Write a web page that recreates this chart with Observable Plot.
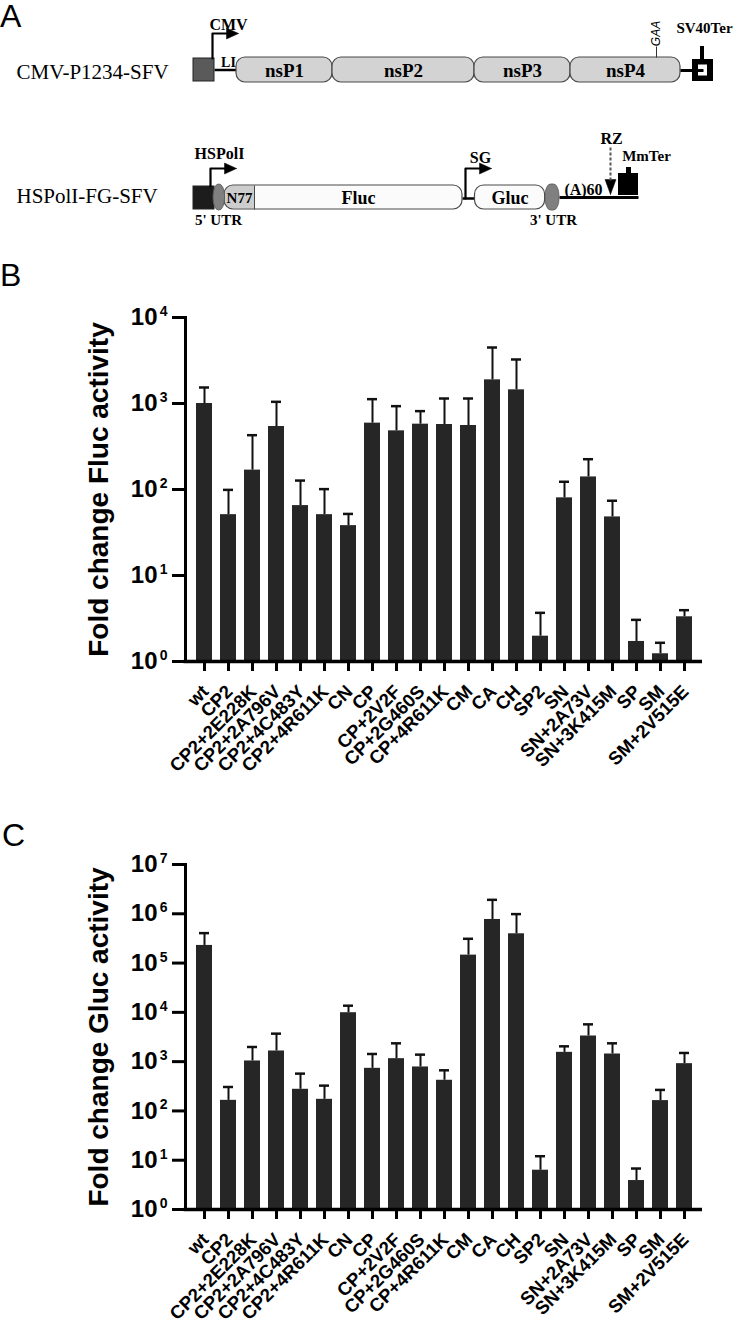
<!DOCTYPE html>
<html><head><meta charset="utf-8">
<script src="https://cdn.jsdelivr.net/npm/d3@7"></script>
<script src="https://cdn.jsdelivr.net/npm/@observablehq/plot@0.6"></script>
<style>
html,body{margin:0;padding:0;background:#fff;overflow:hidden}
#page{position:relative;width:733px;height:1326px;background:#fff}
.panel{position:absolute;left:0}
.letter{position:absolute;font-family:'Liberation Sans',Arial,sans-serif;font-size:32px;line-height:32px;color:#000}
</style></head>
<body><div id="page"></div>
<script>
// ---------- DATA ----------
const constructs = ["wt","CP2","CP2+2E228K","CP2+2A796V","CP2+4C483Y","CP2+4R611K","CN","CP","CP+2V2F","CP+2G460S","CP+4R611K","CM","CA","CH","SP2","SN","SN+2A73V","SN+3K415M","SP","SM","SM+2V515E"];
const flucMean  = [1000, 51, 168, 540, 65, 51, 38, 591, 481, 575, 570, 555, 1884, 1442, 1.97, 80, 140, 48, 1.71, 1.23, 3.31];
const flucUpper = [1535, 99, 428, 1046, 127, 101, 52, 1123, 931, 815, 1143, 1143, 4478, 3250, 3.68, 123, 225, 74, 3.05, 1.65, 3.95];
const glucMean  = [228000, 164, 1032, 1645, 275, 172, 9840, 732, 1150, 780, 419, 145000, 767000, 393000, 6.27, 1545, 3314, 1430, 3.87, 162, 910];
const glucUpper = [405000, 306, 1983, 3697, 571, 326, 13650, 1430, 2353, 1387, 667, 311000, 1920000, 985000, 12.05, 2045, 5710, 2353, 6.78, 267, 1500];
const flucTicks = [1, 10, 100, 1000, 10000];
const glucTicks = [1, 10, 100, 1000, 10000, 100000, 1000000, 10000000];

// Schematic (panel A), in diagram units
const constructNames = [{name:"CMV-P1234-SFV", y:72}, {name:"HSPolI-FG-SFV", y:196}];
const nsGenes = [{name:"nsP1",x1:236,x2:332},{name:"nsP2",x1:332,x2:474},{name:"nsP3",x1:474,x2:570},{name:"nsP4",x1:570,x2:680}];
const reporterGenes = [{name:"Fluc",x1:224,x2:462,lx:358},{name:"Gluc",x1:474.5,x2:544.6,lx:509.5}];
const backbone = [{x1:214,x2:236,y:69.5,w:2.5},{x1:462,x2:475,y:198,w:2.5},{x1:559,x2:638,y:197,w:3}];
const promoterBoxes = [{x1:193,x2:214,y1:58,y2:81,fill:"#5a5a5a"},{x1:193,x2:214,y1:186,y2:209,fill:"#1c1c1c"}];
const utrs = [{x1:213,x2:224.5},{x1:545,x2:559}];
const promoterArrows = [
  {name:"CMV", path:[[212,58],[212,33],[228,33]], tip:[238,33], lx:228, ly:24},
  {name:"HSPolI", path:[[210,186],[210,168],[226,168]], tip:[236,168], lx:219, ly:153},
  {name:"SG", path:[[465,198],[465,168],[481,168]], tip:[491,168], lx:480, ly:157}
];
const smallLabels = [
  {t:"LI", x:228, y:62, s:14},
  {t:"SV40Ter", x:704, y:28, s:15},
  {t:"RZ", x:611, y:138, s:16},
  {t:"MmTer", x:646, y:156, s:15},
  {t:"(A)60", x:583, y:189, s:16},
  {t:"5' UTR", x:218, y:220, s:15},
  {t:"3' UTR", x:553, y:220, s:15}
];
const terminatorRects = [
  {x1:692,x2:713,y1:59,y2:81,fill:"#000"},{x1:700,x2:704,y1:46,y2:59,fill:"#000"},{x1:698,x2:707,y1:64.5,y2:75.5,fill:"#fff"},
  {x1:618,x2:638,y1:173,y2:195,fill:"#000"},{x1:626,x2:631,y1:167,y2:173,fill:"#000"}
];

// ---------- PANEL A ----------
function headRight([x,y], len, wid, id){ return [[x,y,id],[x-len,y-wid/2,id],[x-len,y+wid/2,id],[x,y,id]]; }
function headDown([x,y], len, wid, id){ return [[x,y,id],[x-wid/2,y-len,id],[x+wid/2,y-len,id],[x,y,id]]; }
const heads = [
  ...promoterArrows.flatMap(a => headRight(a.tip, 12, 11, a.name)),
  ...headDown([610,194], 15, 11, "RZ")
];
const arrowLines = promoterArrows.flatMap(a => a.path.map(p => [p[0], p[1], a.name]));

const serif = "'Liberation Serif','Times New Roman',serif";
const panelA = Plot.plot({
  width: 733, height: 265, margin: 0,
  x: {type: "identity"}, y: {type: "identity"},
  style: {fontFamily: serif, fontWeight: "bold", background: "white", color: "black"},
  marks: [
    Plot.text(constructNames, {x: () => 16, y: "y", text: "name", textAnchor: "start", fontSize: 21, fontWeight: "normal"}),
    Plot.link(backbone, {x1: "x1", x2: "x2", y1: "y", y2: "y", stroke: "black", strokeWidth: d => d.w}),
    Plot.rect(promoterBoxes, {x1: "x1", x2: "x2", y1: "y1", y2: "y2", fill: d => d.fill, stroke: "#222", strokeWidth: 1}),
    Plot.rect(nsGenes, {x1: "x1", x2: "x2", y1: () => 57, y2: () => 82, rx: 9, fill: "#d3d3d3", stroke: "#4a4a4a", strokeWidth: 1.2}),
    Plot.text(nsGenes, {x: d => (d.x1 + d.x2) / 2, y: () => 70, text: "name", fontSize: 19}),
    Plot.rect(reporterGenes, {x1: "x1", x2: "x2", y1: () => 185, y2: () => 209, rx: 9, fill: "#fbfbfb"}),
    Plot.rect([{x1:224.6,x2:262}], {x1: "x1", x2: "x2", y1: () => 185.6, y2: () => 208.4, rx: 8.5, fill: "#cdcdcd"}),
    Plot.rect([{x1:254,x2:263}], {x1: "x1", x2: "x2", y1: () => 185.6, y2: () => 208.4, fill: "#fbfbfb"}),
    Plot.rect(reporterGenes, {x1: "x1", x2: "x2", y1: () => 185, y2: () => 209, rx: 9, fill: "none", stroke: "#4a4a4a", strokeWidth: 1.2}),
    Plot.link([254], {x1: d => d, x2: d => d, y1: () => 185, y2: () => 209, stroke: "#4a4a4a", strokeWidth: 1}),
    Plot.text(["N77"], {x: () => 239, y: () => 198, text: d => d, fontSize: 15}),
    Plot.text(reporterGenes, {x: "lx", y: () => 198, text: "name", fontSize: 18}),
    Plot.rect(utrs, {x1: "x1", x2: "x2", y1: () => 184, y2: () => 210, rx: 5.5, ry: 12, fill: "#808080", stroke: "#555", strokeWidth: 0.8}),
    Plot.line(arrowLines, {x: d => d[0], y: d => d[1], z: d => d[2], stroke: "black", strokeWidth: 2.2}),
    Plot.line(heads, {x: d => d[0], y: d => d[1], z: d => d[2], fill: "black", stroke: "black", strokeWidth: 0.5}),
    Plot.text(promoterArrows, {x: "lx", y: "ly", text: "name", fontSize: 16}),
    Plot.link([610], {x1: d => d, x2: d => d, y1: () => 147, y2: () => 180, stroke: "#555", strokeWidth: 2, strokeDasharray: "3,2"}),
    Plot.rect(terminatorRects.slice(0,3), {x1: "x1", x2: "x2", y1: "y1", y2: "y2", fill: d => d.fill}),
    Plot.link([{x1:680,x2:703,y:70}], {x1: "x1", x2: "x2", y1: "y", y2: "y", stroke: "black", strokeWidth: 3}),
    Plot.rect(terminatorRects.slice(3), {x1: "x1", x2: "x2", y1: "y1", y2: "y2", fill: d => d.fill}),
    Plot.link([656], {x1: d => d, x2: d => d, y1: () => 46, y2: () => 57, stroke: "#333", strokeWidth: 1}),
    Plot.text(["GAA"], {x: () => 656, y: () => 33, text: d => d, rotate: -90, fontSize: 12, fontWeight: "normal", fontStyle: "italic", fontFamily: "'Liberation Sans',Arial,sans-serif"}),
    Plot.text(smallLabels, {x: "x", y: "y", text: "t", fontSize: d => d.s})
  ]
});

// ---------- PANELS B, C ----------
function barPanel({means, uppers, ticks, label, height, marginTop, marginBottom}) {
  const rows = constructs.map((name, i) => ({name, mean: means[i], upper: uppers[i]}));
  const frameH = height - marginTop - marginBottom;
  return Plot.plot({
    width: 733, height, marginLeft: 185, marginRight: 31, marginTop, marginBottom,
    style: {fontFamily: "'Liberation Sans',Arial,sans-serif", fontWeight: "bold", color: "black", background: "white", overflow: "visible"},
    x: {domain: constructs, padding: 0.34, axis: null},
    y: {type: "log", domain: [ticks[0], ticks[ticks.length - 1]], axis: null},
    marks: [
      Plot.barY(rows, {x: "name", y1: () => 1, y2: "mean", fill: "#262626"}),
      Plot.ruleX(rows, {x: "name", y1: "mean", y2: "upper", stroke: "#111", strokeWidth: 2}),
      Plot.tickY(rows, {x: "name", y: "upper", stroke: "#111", strokeWidth: 2.5, inset: 3}),
      // x-axis tick marks hanging below the frame
      Plot.ruleX(constructs, {x: Plot.identity, insetTop: frameH, insetBottom: -10, strokeWidth: 3}),
      // y-axis tick marks to the left of the frame
      Plot.ruleY(ticks, {y: Plot.identity, insetLeft: -13, insetRight: 733 - 185 - 31, strokeWidth: 3}),
      Plot.ruleY([ticks[0]], {strokeWidth: 3.5, insetLeft: -1.5}),
      Plot.frame({anchor: "left", strokeWidth: 3}),
      Plot.text(ticks, {y: Plot.identity, frameAnchor: "left", text: () => "10", dx: -28, textAnchor: "end", lineAnchor: "middle", fontSize: 24}),
      Plot.text(ticks, {y: Plot.identity, frameAnchor: "left", text: d => String(Math.round(Math.log10(d))), dx: -18, dy: -6, textAnchor: "end", lineAnchor: "middle", fontSize: 14}),
      Plot.text(constructs, {x: Plot.identity, text: Plot.identity, frameAnchor: "bottom", rotate: -45, textAnchor: "end", lineAnchor: "middle", dx: 1, dy: 27, fontSize: 18.5}),
      Plot.text([label], {frameAnchor: "left", text: Plot.identity, rotate: -90, textAnchor: "middle", lineAnchor: "middle", dx: -86, fontSize: 28})
    ]
  });
}

const panelB = barPanel({means: flucMean, uppers: flucUpper, ticks: flucTicks, label: "Fold change Fluc activity", height: 490, marginTop: 27, marginBottom: 119});
const panelC = barPanel({means: glucMean, uppers: glucUpper, ticks: glucTicks, label: "Fold change Gluc activity", height: 491, marginTop: 29, marginBottom: 117});

const page = document.getElementById("page");
function place(el, top) { el.classList.add("panel"); el.style.top = top + "px"; page.appendChild(el); }
place(panelA, 0);
place(panelB, 290);
place(panelC, 835);
for (const [t, left, top] of [["A", 0, 0], ["B", 0, 259], ["C", 2, 819]]) {
  const d = document.createElement("div");
  d.className = "letter"; d.textContent = t; d.style.left = left + "px"; d.style.top = top + "px";
  page.appendChild(d);
}
</script></body></html>
